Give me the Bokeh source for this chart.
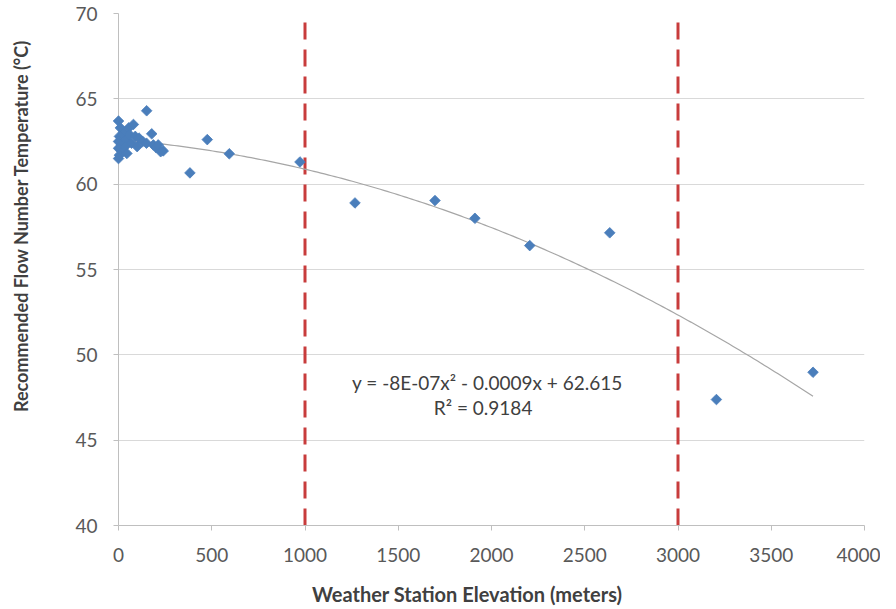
import numpy as np
from bokeh.plotting import figure
from bokeh.models import ColumnDataSource, FixedTicker, Range1d
from bokeh.core.properties import value
from bokeh.embed import file_html
from bokeh.resources import INLINE

# Weather station elevation (m) and recommended flow number temperature (°C)
elevation = [0, 10, 30, 5, 0, 15, 0, 20, 5, 0, 40, 55, 60, 80, 70, 90, 100, 110,
             130, 150, 151, 178, 187, 201, 213, 226, 240, 35, 45,
             383, 476, 594, 973, 1268, 1697, 1911, 2205, 2634, 3206, 3724]
temperature = [63.7, 63.3, 63.0, 62.8, 62.5, 62.3, 62.1, 61.9, 61.7, 61.5, 62.6, 63.3,
               62.9, 63.5, 62.4, 62.8, 62.2, 62.7, 62.5, 62.4, 64.3, 62.95, 62.3,
               62.15, 62.3, 61.9, 61.95, 62.2, 61.8,
               60.66, 62.61, 61.78, 61.3, 58.9, 59.04, 58.0, 56.4, 57.15, 47.38, 48.98]

limit_lines = [1000, 3000]
x_ticks = [0, 500, 1000, 1500, 2000, 2500, 3000, 3500, 4000]
y_ticks = [40, 45, 50, 55, 60, 65, 70]
equation_text = ["y = -8E-07x\u00b2 - 0.0009x + 62.615", "R\u00b2 = 0.9184"]
equation_x = [1978, 1955]
equation_y = [48.38, 46.91]
x_title = "Weather Station Elevation (meters)"
y_title = "Recommended Flow Number Temperature (\u00b0C)"

FONT = "Lato"
NBSP = "\u00a0"

p = figure(width=880, height=609, output_backend="svg", toolbar_location=None,
           x_range=Range1d(0, 4000), y_range=Range1d(40, 70),
           min_border_left=118, min_border_right=16, min_border_top=13,
           min_border_bottom=84)
p.outline_line_color = None
p.background_fill_color = "white"

# grid
p.xgrid.grid_line_color = None
p.ygrid.grid_line_color = "#d9d9d9"
p.ygrid.grid_line_width = 1

# axes
p.xaxis.ticker = FixedTicker(ticks=x_ticks)
p.yaxis.ticker = FixedTicker(ticks=y_ticks)
for ax in (p.xaxis, p.yaxis):
    ax.axis_line_color = "#bfbfbf"
    ax.major_tick_line_color = "#bfbfbf"
    ax.major_tick_out = 5
    ax.major_tick_in = 0
    ax.minor_tick_line_color = None
    ax.major_label_text_font = FONT
    ax.major_label_text_font_size = "19px"
    ax.major_label_text_color = "#595959"
    ax.axis_label_text_font = FONT
    ax.axis_label_text_font_style = "bold"
    ax.axis_label_text_color = "#404040"
p.xaxis.major_label_standoff = 17
p.yaxis.major_label_standoff = 16

# axis titles; non-breaking padding shifts them off-centre like the reference
p.xaxis.axis_label = x_title + NBSP * 10
p.xaxis.axis_label_text_font_size = "20px"
p.xaxis.axis_label_standoff = 17
p.yaxis.axis_label = NBSP * 20 + y_title
p.yaxis.axis_label_text_font_size = "18px"
p.yaxis.axis_label_standoff = 40

# vertical dashed limit lines
p.segment(x0=limit_lines, y0=[70] * len(limit_lines), x1=limit_lines,
          y1=[40] * len(limit_lines), line_color="#c83c3c", line_width=3,
          line_dash="17 10", line_dash_offset=18)

# polynomial trendline (2nd order fit of the data)
coef = np.polyfit(elevation, temperature, 2)
xs = np.linspace(0, max(elevation), 200)
p.line(xs, np.polyval(coef, xs), line_color="#a6a6a6", line_width=1.2)

# data points (diamonds)
src = ColumnDataSource(dict(x=elevation, y=temperature))
r = p.scatter("x", "y", source=src, marker="square", size=7.5, angle=np.pi / 4,
              fill_color="#4a7ebb", line_color="#4a7ebb", line_width=0.8)
r.level = "overlay"

# equation annotation
p.text(x=equation_x, y=equation_y, text=equation_text,
       text_font=value(FONT), text_font_size="19px", text_color="#404040",
       text_align="center", text_baseline="middle")

open("out.html", "w").write(file_html(p, INLINE))
